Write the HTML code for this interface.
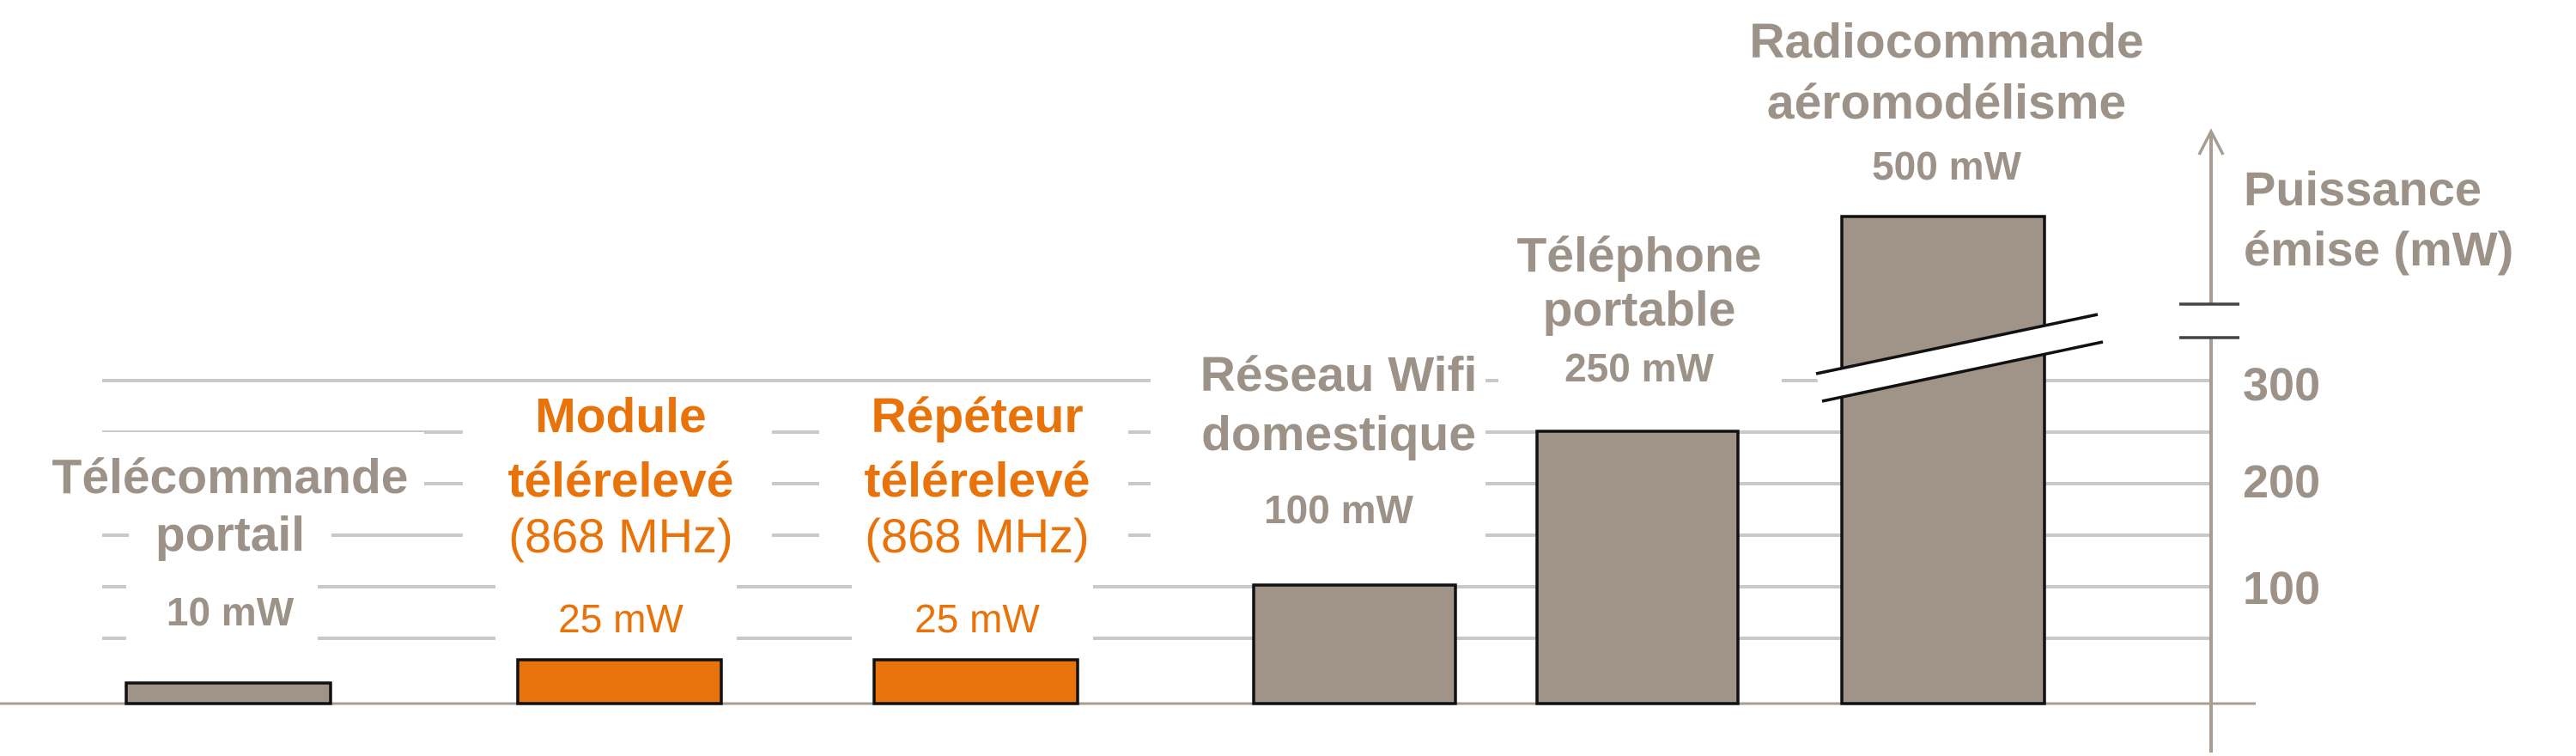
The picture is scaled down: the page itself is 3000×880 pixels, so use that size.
<!DOCTYPE html>
<html><head><meta charset="utf-8"><style>
html,body{margin:0;padding:0;background:#fff;width:3000px;height:880px;overflow:hidden}
svg{display:block}
text{font-family:"Liberation Sans",Arial,sans-serif;text-anchor:middle}
.g{fill:#9c9288;font-weight:bold}
.o{fill:#e8730a}
.b{font-weight:bold}
</style></head><body>
<svg width="3000" height="880" viewBox="0 0 3000 880" xmlns="http://www.w3.org/2000/svg">
<g stroke="#c9c9c9" stroke-width="4">
<line x1="119" y1="443" x2="2575" y2="443"/>
<line x1="119" y1="503" x2="2575" y2="503"/>
<line x1="119" y1="563" x2="2575" y2="563"/>
<line x1="119" y1="623" x2="2575" y2="623"/>
<line x1="119" y1="683" x2="2575" y2="683"/>
<line x1="119" y1="743" x2="2575" y2="743"/>
</g>
<g fill="#fff">
<rect x="41" y="503" width="453" height="97"/>
<rect x="150" y="597" width="236" height="72"/>
<rect x="147" y="663" width="223" height="90"/>
<rect x="539" y="450" width="360" height="208"/>
<rect x="577" y="664" width="281" height="93"/>
<rect x="954" y="450" width="360" height="208"/>
<rect x="992" y="664" width="281" height="93"/>
<rect x="1340" y="400" width="390" height="260"/>
<rect x="1745" y="258" width="330" height="201"/>
<rect x="2028" y="0" width="525" height="230"/>
</g>
<line x1="0" y1="819" x2="2627" y2="819" stroke="#a79d92" stroke-width="3"/>
<g stroke="#111" stroke-width="3.5">
<rect x="147" y="795" width="238" height="24" fill="#a09488"/>
<rect x="603" y="768" width="237" height="51" fill="#e8730a"/>
<rect x="1018" y="768" width="237" height="51" fill="#e8730a"/>
<rect x="1460" y="681" width="235" height="138" fill="#a09488"/>
<rect x="1790" y="502" width="234" height="317" fill="#a09488"/>
<rect x="2145" y="252" width="236" height="567" fill="#a09488"/>
</g>
<polygon points="2115,435 2443,366 2449,398 2122,467" fill="#fff"/>
<g stroke="#111" stroke-width="3.5">
<line x1="2115" y1="435" x2="2443" y2="366"/>
<line x1="2122" y1="467" x2="2449" y2="398"/>
</g>
<g stroke="#a79d92" stroke-width="4" fill="none">
<line x1="2575" y1="153" x2="2575" y2="354"/>
<line x1="2575" y1="393" x2="2575" y2="876"/>
<polyline points="2561,180 2575,153 2589,180" stroke-width="3.5"/>
</g>
<g stroke="#444" stroke-width="3.5">
<line x1="2538" y1="354" x2="2608" y2="354"/>
<line x1="2538" y1="393" x2="2608" y2="393"/>
</g>
<text class="g" x="2613" y="239" font-size="56" style="text-anchor:start">Puissance</text>
<text class="g" x="2613" y="309" font-size="56" style="text-anchor:start">émise (mW)</text>
<text class="g" x="2612" y="466" font-size="54" style="text-anchor:start">300</text>
<text class="g" x="2612" y="579" font-size="54" style="text-anchor:start">200</text>
<text class="g" x="2612" y="703" font-size="54" style="text-anchor:start">100</text>

<text class="g" x="268" y="574" font-size="57">Télécommande</text>
<text class="g" x="268" y="641" font-size="57">portail</text>
<text class="g" x="268" y="728" font-size="46">10 mW</text>

<text class="o b" x="723" y="503" font-size="57">Module</text>
<text class="o b" x="723" y="578" font-size="57">télérelevé</text>
<text class="o" x="723" y="643" font-size="56">(868 MHz)</text>
<text class="o" x="723" y="736" font-size="46">25 mW</text>

<text class="o b" x="1138" y="503" font-size="57">Répéteur</text>
<text class="o b" x="1138" y="578" font-size="57">télérelevé</text>
<text class="o" x="1138" y="643" font-size="56">(868 MHz)</text>
<text class="o" x="1138" y="736" font-size="46">25 mW</text>

<text class="g" x="1559" y="455" font-size="57">Réseau Wifi</text>
<text class="g" x="1559" y="524" font-size="57">domestique</text>
<text class="g" x="1559" y="609" font-size="46">100 mW</text>

<text class="g" x="1909" y="316" font-size="57">Téléphone</text>
<text class="g" x="1909" y="379" font-size="57">portable</text>
<text class="g" x="1909" y="444" font-size="46">250 mW</text>

<text class="g" x="2267" y="67" font-size="57">Radiocommande</text>
<text class="g" x="2267" y="138" font-size="57">aéromodélisme</text>
<text class="g" x="2267" y="209" font-size="46">500 mW</text>
</svg>
</body></html>
